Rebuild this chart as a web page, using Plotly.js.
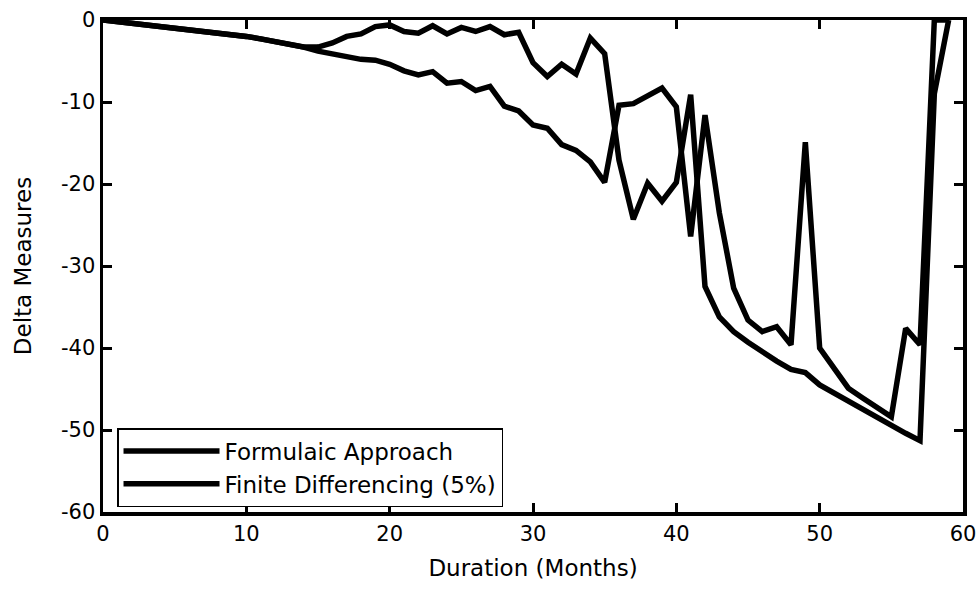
<!DOCTYPE html>
<html>
<head>
<meta charset="utf-8">
<script src="https://cdn.plot.ly/plotly-3.0.1.min.js"></script>
<style>
  html, body { margin: 0; padding: 0; background: #fff; }
  #chart { width: 980px; height: 589px; }
</style>
</head>
<body>
<div id="chart"></div>
<script>
const months = [0,1,2,3,4,5,6,7,8,9,10,11,12,13,14,15,16,17,18,19,20,21,22,23,24,25,26,27,28,29,30,31,32,33,34,35,36,37,38,39,40,41,42,43,44,45,46,47,48,49,50,51,52,53,54,55,56,57,58,59];

const formulaic = [0,-0.2,-0.4,-0.6,-0.8,-1.0,-1.2,-1.4,-1.5,-1.7,-2.0,-2.3,-2.6,-3.0,-3.3,
  -3.8,-4.1,-4.5,-4.8,-4.9,-5.4,-6.2,-6.7,-6.3,-7.7,-7.5,-8.6,-8.1,-10.5,-11.1,
  -12.8,-13.2,-15.2,-15.9,-17.3,-19.8,-10.4,-10.2,-9.3,-8.3,-10.6,-26.4,-11.6,-23.5,-32.7,
  -36.6,-38.0,-37.4,-39.6,-14.9,-40.0,-42.4,-44.9,-46.1,-47.3,-48.4,-37.6,-39.6,0,0];

const finiteDiff = [0,-0.2,-0.4,-0.6,-0.8,-1.0,-1.2,-1.4,-1.5,-1.7,-2.0,-2.3,-2.6,-3.0,-3.3,
  -3.3,-2.8,-2.0,-1.7,-0.8,-0.6,-1.4,-1.6,-0.7,-1.7,-0.9,-1.4,-0.8,-1.8,-1.5,
  -5.2,-6.9,-5.4,-6.6,-2.2,-4.1,-17.1,-24.3,-19.9,-22.1,-19.8,-9.1,-32.5,-36.2,-38.0,
  -39.3,-40.5,-41.6,-42.6,-43.0,-44.5,-45.5,-46.5,-47.5,-48.5,-49.5,-50.4,-51.3,-9.0,0];

const seriesNames = ["Formulaic Approach", "Finite Differencing (5%)"];
const xTicks = [0,10,20,30,40,50,60];
const yTicks = [0,-10,-20,-30,-40,-50,-60];

const FONT = "DejaVu Sans, Liberation Sans, Arial, sans-serif";

const traces = [
  {x: months, y: formulaic, name: seriesNames[0], type: "scatter", mode: "lines",
   line: {color: "#000", width: 5.5}},
  {x: months, y: finiteDiff, name: seriesNames[1], type: "scatter", mode: "lines",
   line: {color: "#000", width: 5.5}}
];

const axisCommon = {
  showgrid: false, zeroline: false,
  showline: true, linecolor: "#000", linewidth: 3.5, mirror: "ticks",
  ticks: "inside", ticklen: 9, tickwidth: 3, tickcolor: "#000",
  tickfont: {family: FONT, size: 21, color: "#000"}
};

const layout = {
  width: 980, height: 589,
  margin: {l: 103, r: 17, t: 20, b: 77, pad: 0},
  paper_bgcolor: "#fff", plot_bgcolor: "#fff",
  showlegend: true,
  xaxis: Object.assign({}, axisCommon, {
    range: [0, 60], tickvals: xTicks, ticktext: xTicks.map(String),
    title: {text: "Duration (Months)", font: {family: FONT, size: 23, color: "#000"}, standoff: 16}
  }),
  yaxis: Object.assign({}, axisCommon, {
    range: [-60, 0], tickvals: yTicks, ticktext: yTicks.map(String),
    title: {text: "Delta Measures", font: {family: FONT, size: 23, color: "#000"}, standoff: 24}
  }),
  legend: {
    x: 0.0163, y: 0.1707, xanchor: "left", yanchor: "top",
    bgcolor: "#fff", bordercolor: "#000", borderwidth: 1.5,
    font: {family: FONT, size: 23, color: "#000"},
    itemwidth: 96,
    tracegroupgap: 0
  }
};

Plotly.newPlot("chart", traces, layout, {staticPlot: true, displayModeBar: false});
</script>
</body>
</html>
